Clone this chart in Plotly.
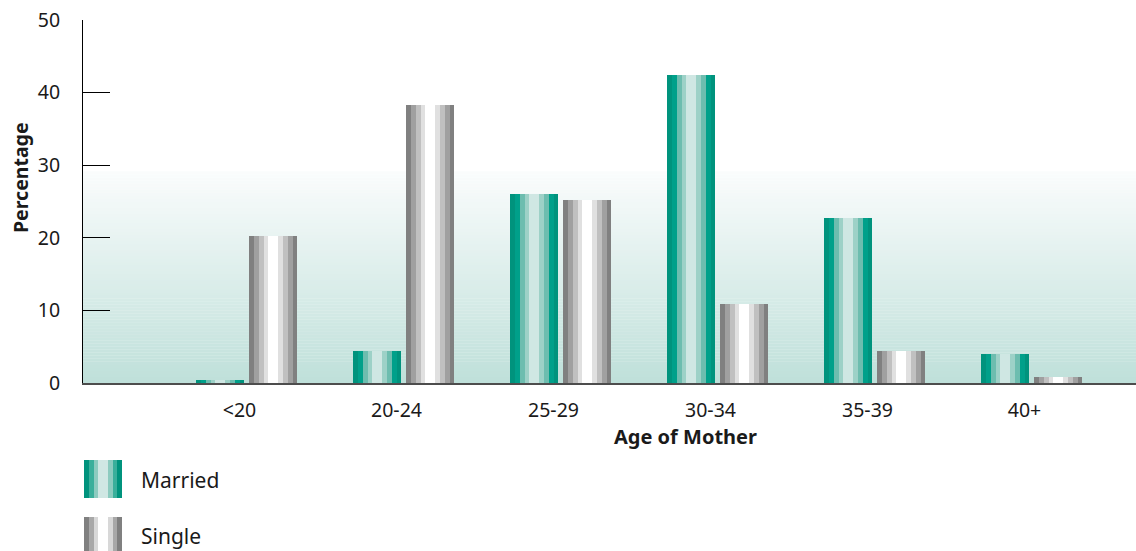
import plotly.graph_objects as go

# ---- data ----
categories = ["<20", "20-24", "25-29", "30-34", "35-39", "40+"]
married = [0.4, 4.4, 26.0, 42.4, 22.7, 4.0]
single = [20.2, 38.3, 25.2, 10.9, 4.4, 0.8]
y_ticks = [0, 10, 20, 30, 40, 50]
series_names = ["Married", "Single"]

# ---- styling ----
FONT = "Noto Sans"
PX_PER_CAT = 157.0
married_colors = ["#00937d", "#00a08a", "#6dbdaf", "#9dd1c7", "#cfe7e3",
                  "#9dd1c7", "#6dbdaf", "#00a08a", "#00937d"]
single_colors = ["#808080", "#a0a0a0", "#c0c0c0", "#e0e0e0", "#ffffff",
                 "#e0e0e0", "#c0c0c0", "#a0a0a0", "#808080"]
stripe_px = [5, 5, 5, 4, 10, 5, 5, 5, 4]

fig = go.Figure()


def add_striped(values, colors, start_px):
    pos = start_px
    for w, c in zip(stripe_px, colors):
        fig.add_trace(go.Bar(
            x=categories, y=values,
            width=[w / PX_PER_CAT] * len(categories),
            offset=[pos / PX_PER_CAT] * len(categories),
            marker=dict(color=c, line=dict(width=0)),
            showlegend=False, hoverinfo="skip",
        ))
        pos += w


add_striped(married, married_colors, -50.5)
add_striped(single, single_colors, 2.5)

# background gradient (bottom teal to near-white at ~29)
shapes = []
n = 70
top = 29.1
c0 = (191, 224, 218)
c1 = (250, 252, 252)
for i in range(n):
    t = i / (n - 1)
    col = tuple(round(c0[k] + (c1[k] - c0[k]) * t) for k in range(3))
    shapes.append(dict(type="rect", xref="paper", yref="y", layer="below",
                       x0=0, x1=1, y0=top * i / n, y1=top * (i + 1) / n + 0.05,
                       fillcolor="rgb(%d,%d,%d)" % col, line=dict(width=0)))

# custom legend swatches
PW, PH = 1053.0, 363.0


def px_to_paper(xp, yp):
    return (xp - 83) / PW, (383 - yp) / PH


leg_m = ["#00937d", "#3aaf9b", "#8ccbbf", "#cfe7e3", "#8ccbbf", "#3aaf9b", "#00937d"]
leg_s = ["#808080", "#a8a8a8", "#d8d8d8", "#ffffff", "#d8d8d8", "#a8a8a8", "#808080"]
leg_w = [5, 5, 4, 10, 5, 4, 5]
for cols, (ytop, ybot) in ((leg_m, (460, 498)), (leg_s, (517, 556))):
    xpos = 84
    for w, c in zip(leg_w, cols):
        x0, y0 = px_to_paper(xpos, ybot)
        x1, y1 = px_to_paper(xpos + w, ytop)
        shapes.append(dict(type="rect", xref="paper", yref="paper",
                           x0=x0, x1=x1, y0=y0, y1=y1,
                           fillcolor=c, line=dict(width=0)))
        xpos += w

annotations = []
for name, yc in zip(series_names, (480, 536)):
    ax, ay = px_to_paper(139, yc)
    annotations.append(dict(text=name, x=ax, y=ay, xref="paper", yref="paper",
                            xanchor="left", yanchor="middle", showarrow=False,
                            font=dict(family=FONT, size=21, color="#1a1a1a")))

ax, ay = px_to_paper(21, 178)
annotations.append(dict(text="<b>Percentage</b>", x=ax, y=ay, xref="paper", yref="paper",
                        textangle=-90, xanchor="center", yanchor="middle", showarrow=False,
                        font=dict(family=FONT, size=19.5, color="#1a1a1a")))
ax, ay = px_to_paper(685, 436)
annotations.append(dict(text="<b>Age of Mother</b>", x=ax, y=ay, xref="paper", yref="paper",
                        xanchor="center", yanchor="middle", showarrow=False,
                        font=dict(family=FONT, size=20, color="#1a1a1a")))

left_edge = (83 - 246.5) / PX_PER_CAT
right_edge = (1136 - 246.5) / PX_PER_CAT

fig.update_layout(
    width=1136, height=551,
    margin=dict(l=83, r=0, t=20, b=168),
    paper_bgcolor="white", plot_bgcolor="white",
    barmode="overlay", bargap=0,
    showlegend=False,
    shapes=shapes, annotations=annotations,
    font=dict(family=FONT, color="#1a1a1a"),
    xaxis=dict(type="category", range=[left_edge, right_edge],
               showgrid=False, zeroline=False,
               showline=True, linecolor="#4d4d4d", linewidth=2,
               ticks="", ticklabelstandoff=9, ticklabelshift=-7,
               tickfont=dict(family=FONT, size=19.5, color="#1a1a1a")),
    yaxis=dict(range=[0, 50], tickvals=y_ticks, showgrid=False, zeroline=False,
               showline=True, linecolor="black", linewidth=1,
               ticks="inside", ticklen=27, tickcolor="black", tickwidth=1,
               ticklabelstandoff=18,
               tickfont=dict(family=FONT, size=19.5, color="#1a1a1a")),
)

# remove the default 8px page margin so the figure fills the window exactly
fig.write_html("out.html",
               config={"displayModeBar": False},
               post_script="document.body.style.margin='0';document.body.style.overflow='hidden';")
